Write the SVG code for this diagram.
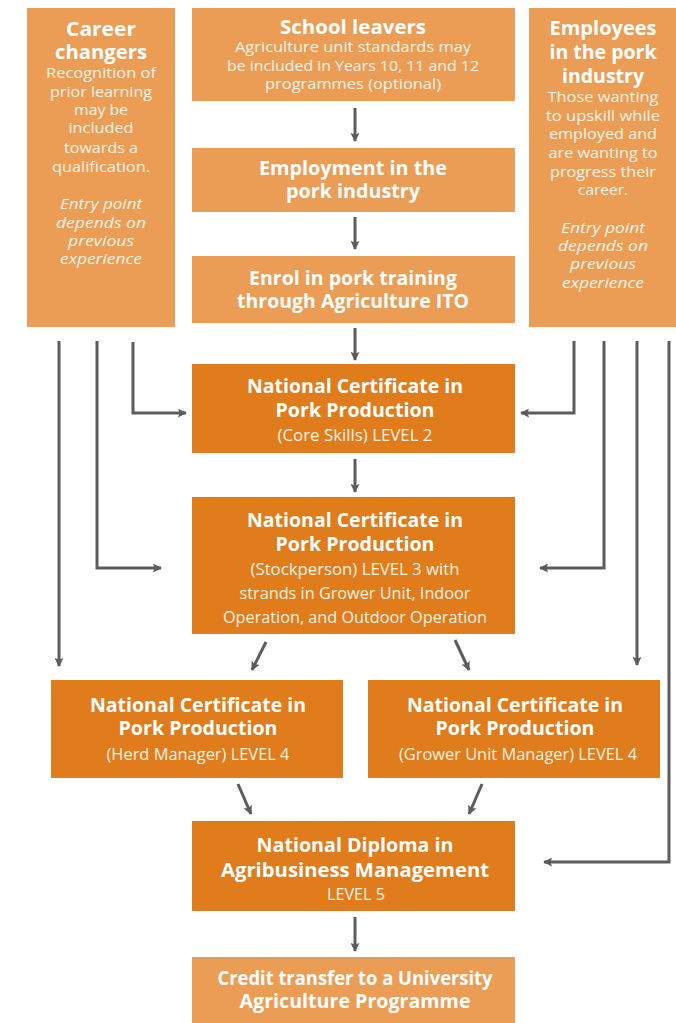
<svg xmlns="http://www.w3.org/2000/svg" width="676" height="1023" viewBox="0 0 676 1023">
<style>
.lt{fill:#EB9D56}
.dk{fill:#E07C1C}
text{fill:#fff;text-anchor:middle;font-family:"Open Sans","Noto Sans",sans-serif}
.h{font-weight:bold;font-size:20px}
.b{font-size:14.5px;fill:#FFF3E6}
.i{font-size:14.5px;font-style:italic;fill:#FFF3E6}
.s{font-size:15.5px;fill:#FFF3E6}
.c line,.c polyline{stroke:#5C5C5C;stroke-width:3;fill:none}
</style>
<defs>
<marker id="a" viewBox="0 0 10 10" refX="9" refY="5" markerWidth="9" markerHeight="9" markerUnits="userSpaceOnUse" orient="auto">
<path d="M0,0 L10,5 L0,10 L2,5 z" fill="#5C5C5C"/>
</marker>
</defs>

<g id="career">
<rect class="lt" x="27" y="8" width="148" height="319"/>
<text class="h" x="101" y="36" textLength="70" lengthAdjust="spacingAndGlyphs">Career</text>
<text class="h" x="101" y="59" textLength="92" lengthAdjust="spacingAndGlyphs">changers</text>
<text class="b" x="101" y="78" textLength="110" lengthAdjust="spacingAndGlyphs">Recognition of</text>
<text class="b" x="101" y="97" textLength="102" lengthAdjust="spacingAndGlyphs">prior learning</text>
<text class="b" x="101" y="115" textLength="54" lengthAdjust="spacingAndGlyphs">may be</text>
<text class="b" x="101" y="133" textLength="65" lengthAdjust="spacingAndGlyphs">included</text>
<text class="b" x="101" y="153" textLength="74" lengthAdjust="spacingAndGlyphs">towards a</text>
<text class="b" x="101" y="172" textLength="98" lengthAdjust="spacingAndGlyphs">qualification.</text>
<text class="i" x="101" y="209" textLength="82" lengthAdjust="spacingAndGlyphs">Entry point</text>
<text class="i" x="101" y="228" textLength="90" lengthAdjust="spacingAndGlyphs">depends on</text>
<text class="i" x="101" y="246" textLength="66" lengthAdjust="spacingAndGlyphs">previous</text>
<text class="i" x="101" y="264" textLength="82" lengthAdjust="spacingAndGlyphs">experience</text>
</g>

<g id="school">
<rect class="lt" x="192" y="8" width="323" height="93"/>
<text class="h" x="353" y="34" textLength="146" lengthAdjust="spacingAndGlyphs">School leavers</text>
<text class="b" x="353" y="52" textLength="236" lengthAdjust="spacingAndGlyphs">Agriculture unit standards may</text>
<text class="b" x="353" y="71" textLength="252" lengthAdjust="spacingAndGlyphs">be included in Years 10, 11 and 12</text>
<text class="b" x="353" y="89" textLength="176" lengthAdjust="spacingAndGlyphs">programmes (optional)</text>
</g>

<g id="employment">
<rect class="lt" x="192" y="148" width="323" height="64"/>
<text class="h" x="353" y="175" textLength="188" lengthAdjust="spacingAndGlyphs">Employment in the</text>
<text class="h" x="353" y="198" textLength="134" lengthAdjust="spacingAndGlyphs">pork industry</text>
</g>

<g id="enrol">
<rect class="lt" x="192" y="256" width="323" height="67"/>
<text class="h" x="353" y="285" textLength="208" lengthAdjust="spacingAndGlyphs">Enrol in pork training</text>
<text class="h" x="353" y="308" textLength="232" lengthAdjust="spacingAndGlyphs">through Agriculture ITO</text>
</g>

<g id="employees">
<rect class="lt" x="529" y="8" width="147" height="319"/>
<text class="h" x="603" y="35" textLength="107" lengthAdjust="spacingAndGlyphs">Employees</text>
<text class="h" x="603" y="59" textLength="107" lengthAdjust="spacingAndGlyphs">in the pork</text>
<text class="h" x="603" y="83" textLength="82" lengthAdjust="spacingAndGlyphs">industry</text>
<text class="b" x="603" y="102" textLength="111" lengthAdjust="spacingAndGlyphs">Those wanting</text>
<text class="b" x="603" y="121" textLength="114" lengthAdjust="spacingAndGlyphs">to upskill while</text>
<text class="b" x="603" y="139" textLength="108" lengthAdjust="spacingAndGlyphs">employed and</text>
<text class="b" x="603" y="158" textLength="109" lengthAdjust="spacingAndGlyphs">are wanting to</text>
<text class="b" x="603" y="177" textLength="106" lengthAdjust="spacingAndGlyphs">progress their</text>
<text class="b" x="603" y="195" textLength="50" lengthAdjust="spacingAndGlyphs">career.</text>
<text class="i" x="603" y="233" textLength="84" lengthAdjust="spacingAndGlyphs">Entry point</text>
<text class="i" x="603" y="251" textLength="90" lengthAdjust="spacingAndGlyphs">depends on</text>
<text class="i" x="603" y="269" textLength="66" lengthAdjust="spacingAndGlyphs">previous</text>
<text class="i" x="603" y="288" textLength="82" lengthAdjust="spacingAndGlyphs">experience</text>
</g>

<g id="nc2">
<rect class="dk" x="192" y="364" width="323" height="89"/>
<text class="h" x="355" y="393" textLength="216" lengthAdjust="spacingAndGlyphs">National Certificate in</text>
<text class="h" x="355" y="417" textLength="159" lengthAdjust="spacingAndGlyphs">Pork Production</text>
<text class="s" x="355" y="441" textLength="155" lengthAdjust="spacingAndGlyphs">(Core Skills) LEVEL 2</text>
</g>

<g id="nc3">
<rect class="dk" x="192" y="497" width="323" height="137"/>
<text class="h" x="355" y="527" textLength="216" lengthAdjust="spacingAndGlyphs">National Certificate in</text>
<text class="h" x="355" y="551" textLength="159" lengthAdjust="spacingAndGlyphs">Pork Production</text>
<text class="s" x="355" y="575" textLength="209" lengthAdjust="spacingAndGlyphs">(Stockperson) LEVEL 3 with</text>
<text class="s" x="355" y="599" textLength="231" lengthAdjust="spacingAndGlyphs">strands in Grower Unit, Indoor</text>
<text class="s" x="355" y="623" textLength="264" lengthAdjust="spacingAndGlyphs">Operation, and Outdoor Operation</text>
</g>

<g id="herd">
<rect class="dk" x="51" y="680" width="292" height="98"/>
<text class="h" x="198" y="712" textLength="216" lengthAdjust="spacingAndGlyphs">National Certificate in</text>
<text class="h" x="198" y="735" textLength="159" lengthAdjust="spacingAndGlyphs">Pork Production</text>
<text class="s" x="198" y="760" textLength="183" lengthAdjust="spacingAndGlyphs">(Herd Manager) LEVEL 4</text>
</g>

<g id="grower">
<rect class="dk" x="368" y="680" width="292" height="98"/>
<text class="h" x="515" y="712" textLength="216" lengthAdjust="spacingAndGlyphs">National Certificate in</text>
<text class="h" x="515" y="735" textLength="159" lengthAdjust="spacingAndGlyphs">Pork Production</text>
<text class="s" x="518" y="760" textLength="238" lengthAdjust="spacingAndGlyphs">(Grower Unit Manager) LEVEL 4</text>
</g>

<g id="diploma">
<rect class="dk" x="192" y="821" width="323" height="90"/>
<text class="h" x="355" y="852" textLength="197" lengthAdjust="spacingAndGlyphs">National Diploma in</text>
<text class="h" x="355" y="877" textLength="268" lengthAdjust="spacingAndGlyphs">Agribusiness Management</text>
<text class="s" x="356" y="900" textLength="58" lengthAdjust="spacingAndGlyphs">LEVEL 5</text>
</g>

<g id="credit">
<rect class="lt" x="192" y="957" width="323" height="66"/>
<text class="h" x="355" y="985" textLength="275" lengthAdjust="spacingAndGlyphs">Credit transfer to a University</text>
<text class="h" x="355" y="1008" textLength="231" lengthAdjust="spacingAndGlyphs">Agriculture Programme</text>
</g>

<g class="c" id="connectors">
<line x1="355" y1="108" x2="355" y2="141" marker-end="url(#a)"/>
<line x1="355" y1="217" x2="355" y2="249" marker-end="url(#a)"/>
<line x1="355" y1="328" x2="355" y2="360" marker-end="url(#a)"/>
<line x1="355" y1="459" x2="355" y2="492" marker-end="url(#a)"/>
<line x1="355" y1="917" x2="355" y2="951" marker-end="url(#a)"/>
<line x1="59" y1="341" x2="59" y2="666" marker-end="url(#a)"/>
<polyline points="97,341 97,568 161,568" marker-end="url(#a)"/>
<polyline points="133,342 133,413 186,413" marker-end="url(#a)"/>
<polyline points="574,341 574,413 521,413" marker-end="url(#a)"/>
<polyline points="604,341 604,568 540,568" marker-end="url(#a)"/>
<line x1="637" y1="341" x2="637" y2="665" marker-end="url(#a)"/>
<polyline points="669,341 669,862 544,862" marker-end="url(#a)"/>
<line x1="266" y1="642" x2="252" y2="670" marker-end="url(#a)"/>
<line x1="455" y1="640" x2="469" y2="670" marker-end="url(#a)"/>
<line x1="238" y1="784" x2="251" y2="814" marker-end="url(#a)"/>
<line x1="482" y1="784" x2="469" y2="814" marker-end="url(#a)"/>
</g>
</svg>
